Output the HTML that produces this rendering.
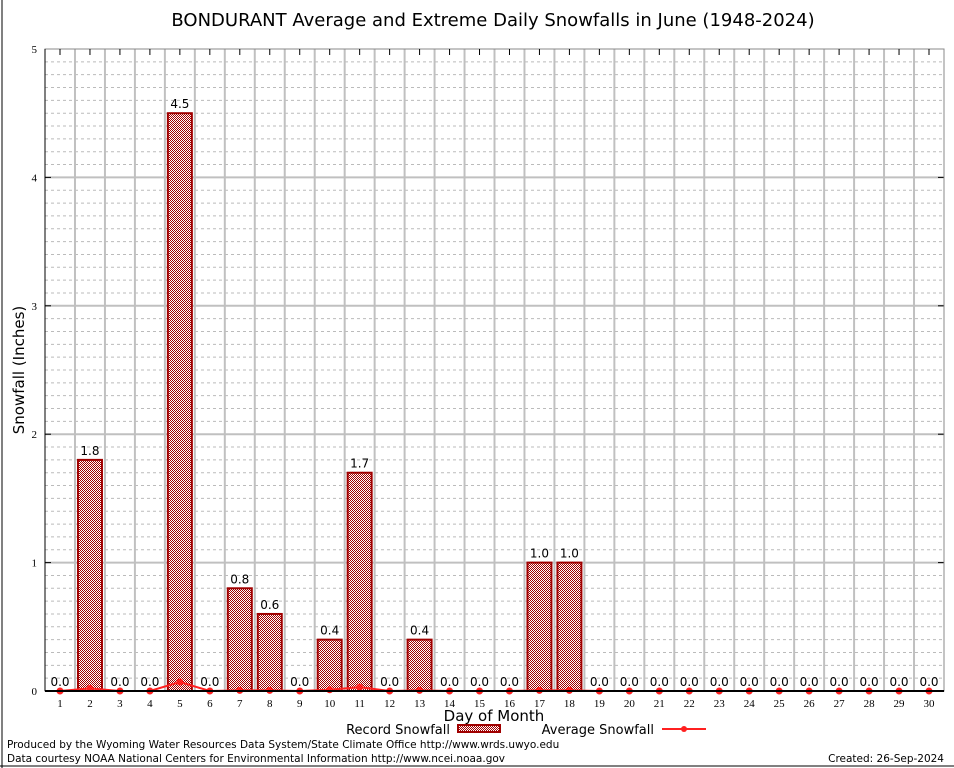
<!DOCTYPE html>
<html><head><meta charset="utf-8">
<style>
body{margin:0;background:#fff;}
svg{display:block;font-family:"DejaVu Sans","Liberation Sans",sans-serif;}
</style></head>
<body>
<svg id="c" width="954" height="768" xmlns="http://www.w3.org/2000/svg">
<defs>
<pattern id="chk" width="2" height="2" patternUnits="userSpaceOnUse">
<rect width="2" height="2" fill="#fff"/>
<rect width="1" height="1" fill="#a00000"/>
<rect x="1" y="1" width="1" height="1" fill="#a00000"/>
</pattern>
</defs>
<line x1="2" y1="0" x2="2" y2="768" stroke="#000"/>
<line x1="0" y1="766" x2="954" y2="766" stroke="#000"/>
<text x="493" y="26" font-size="18" text-anchor="middle">BONDURANT Average and Extreme Daily Snowfalls in June (1948-2024)</text>
<g id="grid"></g>
<g id="bars"></g>
<g id="avg"></g>
<g id="axes"></g>
<text transform="translate(24,370) rotate(-90)" font-size="15" text-anchor="middle">Snowfall (Inches)</text>
<text x="494" y="721" font-size="15" text-anchor="middle">Day of Month</text>
<g>
<text x="450" y="734" font-size="13" text-anchor="end">Record Snowfall</text>
<rect x="458" y="725" width="42" height="7" fill="url(#chk)" stroke="#a00000" stroke-width="2"/>
</g>
<g>
<text x="654" y="734" font-size="13" text-anchor="end">Average Snowfall</text>
<line x1="662" y1="729" x2="706" y2="729" stroke="#ff2020" stroke-width="2"/>
<circle cx="684" cy="729" r="3" fill="#ff2020"/>
</g>
<text x="7" y="748" font-size="10.5">Produced by the Wyoming Water Resources Data System/State Climate Office http://www.wrds.uwyo.edu</text>
<text x="7" y="762" font-size="10.5">Data courtesy NOAA National Centers for Environmental Information http://www.ncei.noaa.gov</text>
<text x="944" y="762" font-size="10.5" text-anchor="end">Created:  26-Sep-2024</text>
</svg>
<script>
const days=[1,2,3,4,5,6,7,8,9,10,11,12,13,14,15,16,17,18,19,20,21,22,23,24,25,26,27,28,29,30];
const recordSnow=[0,1.8,0,0,4.5,0,0.8,0.6,0,0.4,1.7,0,0.4,0,0,0,1.0,1.0,0,0,0,0,0,0,0,0,0,0,0,0];
const avgSnow=[0,0.02,0,0,0.07,0,0.005,0.005,0,0.01,0.03,0,0.005,0,0,0,0.005,0.005,0,0,0,0,0,0,0,0,0,0,0,0];
const yTicks=[0,1,2,3,4,5];
const NS="http://www.w3.org/2000/svg";
const L=45,R=944,T=49,B=691;
const x=d=>60+(d-1)*(929-60)/29;
const y=v=>B-v*(B-T)/5;
function mk(tag,attrs,parent,txt){const e=document.createElementNS(NS,tag);for(const k in attrs)e.setAttribute(k,attrs[k]);if(txt!==undefined)e.textContent=txt;parent.appendChild(e);return e;}
const grid=document.getElementById('grid'),bars=document.getElementById('bars'),avg=document.getElementById('avg'),axes=document.getElementById('axes');
for(let v=0.1;v<5;v+=0.1){
  if(Math.abs(v-Math.round(v))<0.01)continue;
  const g=mk('line',{x1:L,x2:R,y1:y(v),y2:y(v),stroke:'#bbb','stroke-dasharray':'3,3'},grid);
  
  
}
days.forEach(d=>{if(d<30){const g=mk('line',{x1:x(d+0.5),x2:x(d+0.5),y1:T,y2:B,stroke:'#c0c0c0','stroke-width':2},grid);

}});
yTicks.forEach(v=>{
  if(v>0&&v<5){const g=mk('line',{x1:L,x2:R,y1:y(v),y2:y(v),stroke:'#c0c0c0','stroke-width':2},grid);
  
  }
  const t=mk('text',{x:37,y:y(v)+4,'font-size':11,'text-anchor':'end','font-family':'Liberation Serif,serif'},axes,String(v));
  
  
  mk('line',{x1:L,x2:L+6,y1:y(v),y2:y(v),stroke:'#000'},axes);
  mk('line',{x1:R,x2:R-6,y1:y(v),y2:y(v),stroke:'#000'},axes);
});
mk('rect',{x:L,y:T,width:R-L,height:B-T,fill:'none',stroke:'#888'},axes);
mk('line',{x1:L,x2:R,y1:B,y2:B,stroke:'#000','stroke-width':2},axes);
mk('line',{x1:L,x2:L,y1:T,y2:B,stroke:'#000'},axes);
days.forEach((d,i)=>{
  const v=recordSnow[i];
  if(v>0){const b=mk('rect',{x:x(d)-12,y:y(v),width:24,height:B-y(v),fill:'url(#chk)',stroke:'#a00000','stroke-width':2},bars);
  
  }
  const lb=mk('text',{x:x(d),y:y(v)-5,'font-size':12,'text-anchor':'middle'},bars,v.toFixed(1));
  
  
  const tl=mk('text',{x:x(d),y:707,'font-size':11,'text-anchor':'middle','font-family':'Liberation Serif,serif'},axes,String(d));
  
  
  mk('line',{x1:x(d),x2:x(d),y1:T,y2:T+6,stroke:'#000'},axes);
});
const pl=mk('polyline',{points:days.map((d,i)=>x(d)+','+y(avgSnow[i])).join(' '),fill:'none',stroke:'#ff2020','stroke-width':2},avg);


days.forEach((d,i)=>{const c=mk('circle',{cx:x(d),cy:y(avgSnow[i]),r:3.5,fill:'#ff2020'},avg);

});
</script>
</body></html>
